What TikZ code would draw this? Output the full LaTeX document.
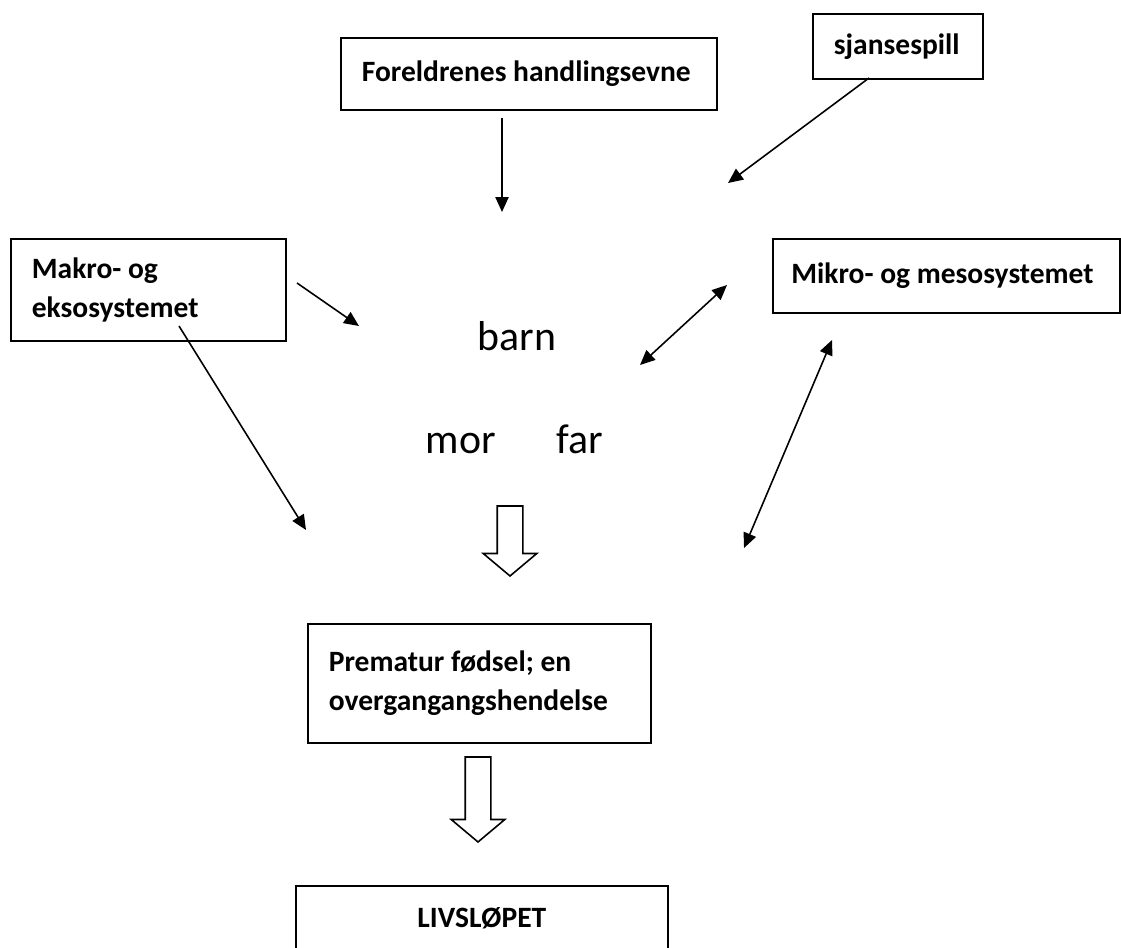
\documentclass[tikz,border=0pt]{standalone}
\usepackage{fontspec}
\setmainfont{Carlito}
\usetikzlibrary{positioning}
\usetikzlibrary{shapes.arrows}
\usetikzlibrary{arrows.meta}
\tikzset{
    boks/.style = {rectangle, draw=black, line width=1pt, anchor=north west, align=flush left, inner xsep=0.42cm, inner ysep=0pt, font=\fontsize{16.8}{22}\selectfont\bfseries},
    ord/.style = {anchor=base, inner sep=0pt, font=\fontsize{23.8}{28}\selectfont},
    pil/.style = {-{Triangle[length=8.5pt,width=7.5pt]}, line width=0.9pt},
    dpil/.style = {{Triangle[length=8.5pt,width=7.5pt]}-{Triangle[length=8.5pt,width=7.5pt]}, line width=0.9pt},
    blokkpil/.style = {single arrow, draw=black, line width=0.9pt, rotate=-90, anchor=tip, inner xsep=0pt, inner ysep=0.24cm, single arrow head extend=0.28cm, single arrow tip angle=100}
}

\begin{document}
\begin{tikzpicture}[x=0.02cm, y=-0.02cm]
  \useasboundingbox (0,0) rectangle (1121,947);

  % boksene
  \node[boks, text width=6.68cm, minimum height=1.44cm] (fh) at (340,37) {Foreldrenes handlingsevne};
  \node[boks, text width=2.56cm, minimum height=1.3cm] (sj) at (812,13) {sjansespill};
  \node[boks, text width=4.66cm, minimum height=2.04cm] (makro) at (10,238) {Makro- og\\eksosystemet};
  \node[boks, text width=6.2cm, inner xsep=0.37cm, minimum height=1.48cm] (mikro) at (772,238) {Mikro- og mesosystemet};
  \node[boks, text width=6.02cm, minimum height=2.38cm] (premat) at (307,623) {Prematur fødsel; en\\overgangangshendelse};
  \node[boks, text width=6.6cm, align=center, minimum height=1.3cm] (livs) at (295,885) {LIVSLØPET};

  % familien
  \node[ord] (barn) at (517,350) {barn};
  \node[ord] (mor) at (461,453) {mor};
  \node[ord] (far) at (580,453) {far};

  % frie endepunkter
  \coordinate (f1) at (502,118);
  \coordinate (f2) at (502,212);
  \coordinate (s1) at (869,78);
  \coordinate (s2) at (728,183);
  \coordinate (m1) at (297,283);
  \coordinate (m2) at (359,326);
  \coordinate (m3) at (179,326);
  \coordinate (m4) at (306,530);
  \coordinate (k1) at (640,365);
  \coordinate (k2) at (727,285);
  \coordinate (k3) at (744,548);
  \coordinate (k4) at (832,340);

  \draw[pil] (f1) -- (f2);
  \draw[pil] (s1) -- (s2);
  \draw[pil] (m1) -- (m2);
  \draw[pil] (m3) -- (m4);
  \draw[dpil] (k1) -- (k2);
  \draw[dpil] (k3) -- (k4);

  % blokkpiler
  \node[blokkpil, minimum height=1.4cm] (pil1) at (510,577) {};
  \node[blokkpil, minimum height=1.7cm] (pil2) at (478,843) {};
\end{tikzpicture}
\end{document}
